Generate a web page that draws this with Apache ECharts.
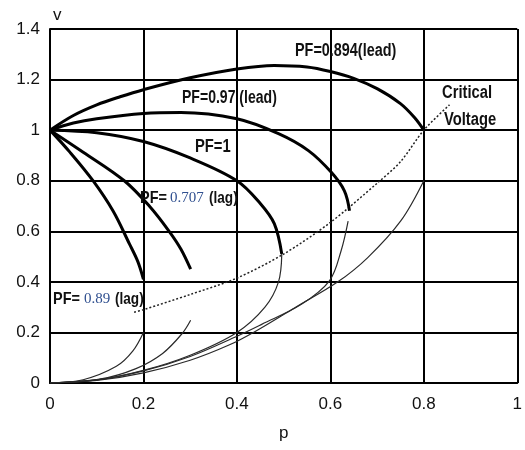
<!DOCTYPE html>
<html>
<head>
<meta charset="utf-8">
<script src="https://cdn.jsdelivr.net/npm/echarts@6/dist/echarts.min.js"></script>
<style>
html,body{margin:0;padding:0;background:#fff;}
#chart{width:525px;height:450px;}
</style>
</head>
<body>
<div id="chart"></div>
<script>
// ---- data (p, v) ----
const xTickLabels = ['0', '0.2', '0.4', '0.6', '0.8', '1'];
const yTickLabels = ['0', '0.2', '0.4', '0.6', '0.8', '1', '1.2', '1.4'];

const pf0894LeadUpper = [[0,1],[0.05,1.058],[0.1,1.1],[0.15,1.132],[0.2,1.16],[0.3,1.207],[0.4,1.242],[0.48,1.256],[0.55,1.25],[0.6,1.232],[0.65,1.205],[0.7,1.164],[0.75,1.105],[0.78,1.05],[0.8,1.0]];
const pf0894LeadLower = [[0,0],[0.1,0.01],[0.2,0.04],[0.3,0.09],[0.383,0.15],[0.44,0.205],[0.524,0.298],[0.616,0.40],[0.68,0.496],[0.751,0.642],[0.8,0.8]];

const pf097LeadUpper = [[0,1],[0.05,1.028],[0.1,1.045],[0.2,1.066],[0.28,1.07],[0.4,1.045],[0.489,0.986],[0.553,0.919],[0.602,0.833],[0.63,0.76],[0.641,0.681]];
const pf097LeadLower = [[0,0],[0.1,0.012],[0.2,0.048],[0.3,0.105],[0.4,0.185],[0.453,0.232],[0.538,0.311],[0.598,0.404],[0.623,0.523],[0.638,0.64]];

const pf1Upper = [[0,1],[0.1,0.99],[0.2,0.955],[0.3,0.89],[0.4,0.8],[0.45,0.71],[0.48,0.63],[0.496,0.51]];
const pf1Lower = [[0.496,0.51],[0.489,0.4],[0.46,0.3],[0.4,0.2],[0.3,0.11],[0.2,0.05],[0.1,0.012],[0,0]];

const pf0707LagUpper = [[0,1],[0.071,0.913],[0.159,0.8],[0.2125,0.70],[0.255,0.6],[0.28,0.53],[0.301,0.45]];
const pf0707LagLower = [[0,0],[0.106,0.015],[0.184,0.057],[0.241,0.117],[0.283,0.196],[0.301,0.248]];

const pf089LagUpper = [[0,1],[0.0425,0.913],[0.092,0.8],[0.135,0.68],[0.17,0.55],[0.188,0.48],[0.2,0.41]];
const pf089LagLower = [[0,0],[0.071,0.013],[0.142,0.066],[0.177,0.126],[0.2,0.2]];

const criticalVoltage = [[0.18,0.28],[0.2,0.29],[0.3,0.35],[0.4,0.415],[0.5,0.51],[0.6,0.635],[0.7,0.79],[0.75,0.875],[0.8,1.0],[0.855,1.1]];

// ---- chart ----
const chart = echarts.init(document.getElementById('chart'), null, {renderer: 'canvas'});
const BOLD = 'bold 18px "Liberation Sans", Arial, sans-serif';
const BOLD17 = 'bold 17px "Liberation Sans", Arial, sans-serif';
const SERIF = '15px "Liberation Serif", serif';

function thick(name, data) {
  return {name, type: 'line', data, smooth: 0.35, symbol: 'none', z: 3,
    lineStyle: {color: '#000', width: 3}};
}
function thin(name, data) {
  return {name, type: 'line', data, smooth: 0.35, symbol: 'none', z: 2,
    lineStyle: {color: '#2a2a2a', width: 1.2}};
}
function label(text, x, y, font, fill, sx) {
  return {type: 'text', x, y, scaleX: sx, z: 10,
    style: {text, font, fill, textAlign: 'left', textVerticalAlign: 'top'}};
}

chart.setOption({
  animation: false,
  backgroundColor: '#fff',
  grid: {left: 50, right: 5, top: 29, bottom: 67, containLabel: false},
  xAxis: {
    type: 'value', min: 0, max: 1, interval: 0.2,
    name: 'p', nameLocation: 'middle', nameGap: 42,
    nameTextStyle: {fontFamily: 'Liberation Sans', fontSize: 17, color: '#111'},
    axisLine: {show: true, lineStyle: {color: '#000', width: 2}},
    axisTick: {show: false},
    axisLabel: {fontFamily: 'Liberation Sans', fontSize: 17, color: '#111', margin: 13,
      formatter: v => xTickLabels[Math.round(v / 0.2)]},
    splitLine: {show: true, lineStyle: {color: '#000', width: 2}}
  },
  yAxis: {
    type: 'value', min: 0, max: 1.4, interval: 0.2,
    name: 'v', nameLocation: 'end', nameGap: 5,
    nameTextStyle: {fontFamily: 'Liberation Sans', fontSize: 17, color: '#111', align: 'left', padding: [0, 0, 0, 3]},
    axisLine: {show: true, lineStyle: {color: '#000', width: 2}},
    axisTick: {show: false},
    axisLabel: {fontFamily: 'Liberation Sans', fontSize: 17, color: '#111', margin: 10,
      formatter: v => yTickLabels[Math.round(v / 0.2)]},
    splitLine: {show: true, lineStyle: {color: '#000', width: 2}}
  },
  series: [
    thick('PF=0.894(lead)', pf0894LeadUpper),
    thin('PF=0.894(lead) lower', pf0894LeadLower),
    thick('PF=0.97 (lead)', pf097LeadUpper),
    thin('PF=0.97 (lead) lower', pf097LeadLower),
    thick('PF=1', pf1Upper),
    thin('PF=1 lower', pf1Lower),
    thick('PF=0.707(lag)', pf0707LagUpper),
    thin('PF=0.707(lag) lower', pf0707LagLower),
    thick('PF=0.89 (lag)', pf089LagUpper),
    thin('PF=0.89 (lag) lower', pf089LagLower),
    {name: 'Critical Voltage', type: 'line', data: criticalVoltage, smooth: 0.3, symbol: 'none', z: 2,
      lineStyle: {color: '#222', width: 1.5, type: [2, 2]}}
  ],
  graphic: [
    label('PF=0.894(lead)', 295, 42, BOLD, '#111', 0.8),
    label('PF=0.97 (lead)', 182, 89, BOLD, '#111', 0.78),
    label('PF=1', 195, 138, BOLD, '#111', 0.82),
    label('PF=', 140, 190, BOLD17, '#111', 0.85),
    label('0.707', 170, 191, SERIF, '#2f4f8f', 1),
    label('(lag)', 209, 190, BOLD17, '#111', 0.8),
    label('PF=', 53, 291, BOLD17, '#111', 0.85),
    label('0.89', 84, 292, SERIF, '#2f4f8f', 1),
    label('(lag)', 115, 291, BOLD17, '#111', 0.8),
    label('Critical', 442, 84, BOLD, '#111', 0.82),
    label('Voltage', 444, 111, BOLD, '#111', 0.82)
  ]
});
</script>
</body>
</html>
